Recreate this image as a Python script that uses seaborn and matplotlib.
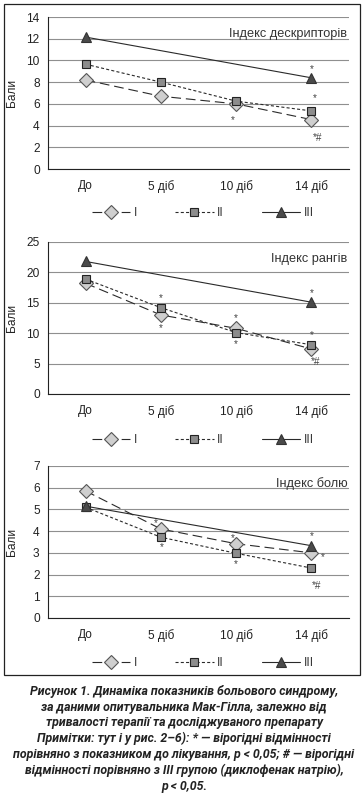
import matplotlib
matplotlib.use("Agg")
import matplotlib.pyplot as plt
from matplotlib.patches import Rectangle
import seaborn as sns
import pandas as pd

# ---------------- data ----------------
categories = ["До", "5 діб", "10 діб", "14 діб"]
groups = ["I", "II", "III"]
iii_categories = ["До", "14 діб"]

desc_I = [8.2, 6.7, 6.0, 4.55]
desc_II = [9.65, 8.0, 6.25, 5.35]
desc_III = [12.15, 8.4]

ranks_I = [18.2, 13.0, 10.8, 7.4]
ranks_II = [18.9, 14.2, 10.1, 8.1]
ranks_III = [21.8, 15.1]

pain_I = [5.85, 4.1, 3.42, 3.0]
pain_II = [5.1, 3.72, 2.98, 2.3]
pain_III = [5.15, 3.33]

panel_titles = ["Індекс дескрипторів", "Індекс рангів", "Індекс болю"]
y_label = "Бали"

# significance marks: (category, value, text)
desc_marks = [("14 діб", 9.45, "*"), ("14 діб", 6.8, "*"), ("10 діб", 4.8, "*"), ("14 діб", 3.1, "*#")]
ranks_marks = [("5 діб", 16.2, "*"), ("5 діб", 11.3, "*"), ("10 діб", 13.0, "*"), ("10 діб", 8.6, "*"),
               ("14 діб", 17.1, "*"), ("14 діб", 10.2, "*"), ("14 діб", 5.7, "*#")]
pain_marks = [("5 діб", 4.5, "*"), ("5 діб", 3.4, "*"), ("10 діб", 3.82, "*"), ("10 діб", 2.6, "*"),
              ("14 діб", 3.9, "*"), ("14 діб", 2.95, "*"), ("14 діб", 1.6, "*#")]
# horizontal nudges (px) for marks, same order as above
desc_dx = [0, 3, -3, 6]
ranks_dx = [0, 0, 0, 0, 0, 0, 4]
pain_dx = [-5, 1, -3, 0, 0, 11, 5]

y_max = [14, 25, 7]
y_step = [2, 5, 1]

caption = ("Рисунок 1. Динаміка показників больового синдрому,\n"
           "за даними опитувальника Мак-Гілла, залежно від\n"
           "тривалості терапії та досліджуваного препарату\n"
           "Примітки: тут і у рис. 2–6): * — вірогідні відмінності\n"
           "порівняно з показником до лікування, р < 0,05; # — вірогідні\n"
           "відмінності порівняно з ІІІ групою (диклофенак натрію),\n"
           "р < 0,05.")

# ---------------- style ----------------
sns.set_style("white")
plt.rcParams["font.family"] = ["Liberation Sans", "DejaVu Sans"]
plt.rcParams["lines.scale_dashes"] = False

W, H = 364, 793
fig = plt.figure(figsize=(W / 100, H / 100), dpi=100)

def fx(px):
    return px / W

def fy(py):
    return 1 - py / H

panels = [
    (desc_I, desc_II, desc_III, desc_marks, desc_dx, 17, 169, 213),
    (ranks_I, ranks_II, ranks_III, ranks_marks, ranks_dx, 242, 394, 440),
    (pain_I, pain_II, pain_III, pain_marks, pain_dx, 466, 618, 663),
]

line_col = "#2a2a2a"
styles = {
    "I": dict(marker="D", markersize=7.0, markerfacecolor="#cfcfcf", markeredgecolor="#555555",
              markeredgewidth=0.8, dashes=(7, 3.5)),
    "II": dict(marker="s", markersize=6.3, markerfacecolor="#8c8c8c", markeredgecolor="#222222",
               markeredgewidth=0.8, dashes=(2.2, 1.6)),
    "III": dict(marker="^", markersize=6.8, markerfacecolor="#4a4a4a", markeredgecolor="#333333",
                markeredgewidth=0.8, dashes=None),
}

fs = 8.6
mark_fs = 7.2
left_px, right_px = 48, 349
for i, (vI, vII, vIII, marks, dxs, top, bot, leg_y) in enumerate(panels):
    ax = fig.add_axes([fx(left_px), fy(bot), fx(right_px - left_px), (bot - top) / H])
    series = {"I": (categories, vI), "II": (categories, vII), "III": (iii_categories, vIII)}
    for g in groups:
        cats, vals = series[g]
        df = pd.DataFrame({"x": [categories.index(c) for c in cats], "y": vals})
        st = dict(styles[g])
        dashes = st.pop("dashes")
        sns.lineplot(data=df, x="x", y="y", ax=ax, color=line_col, linewidth=0.8,
                     label=g, legend=False, **st)
        ln = ax.get_lines()[-1]
        if dashes is not None:
            ln.set_dashes(dashes)
        else:
            ln.set_linestyle("-")
    ax.set_xlim(-0.5, 3.5)
    ax.set_ylim(0, y_max[i])
    ax.set_yticks(range(0, y_max[i] + 1, y_step[i]))
    ax.set_xticks([0, 1, 2, 3])
    ax.set_xticklabels(categories)
    ax.set_xticks([-0.5, 0.5, 1.5, 2.5, 3.5], minor=True)
    ax.tick_params(axis="x", which="major", length=0, pad=8, labelsize=fs, labelcolor="#222222")
    ax.tick_params(axis="x", which="minor", length=4, width=0.8, color="#222222", direction="out")
    ax.tick_params(axis="y", length=4, width=0.8, color="#222222", direction="out", pad=2,
                   labelsize=fs, labelcolor="#222222")
    ax.set_xlabel("")
    ax.set_ylabel(y_label, fontsize=8.6, color="#222222")
    ax.yaxis.set_label_coords(-0.1, 0.5)
    ax.grid(axis="y", color="#8f8f8f", linewidth=0.8)
    ax.set_axisbelow(True)
    for s in ["top", "right"]:
        ax.spines[s].set_visible(False)
    ax.spines["left"].set_color("#222222")
    ax.spines["left"].set_linewidth(0.8)
    ax.spines["bottom"].set_color("#222222")
    ax.spines["bottom"].set_linewidth(0.8)
    ax.text(0.995, 0.885, panel_titles[i], transform=ax.transAxes, ha="right", va="center",
            fontsize=9.2, color="#333333")
    for (c, v, t), dx in zip(marks, dxs):
        ax.annotate(t, (categories.index(c), v), xytext=(dx * 0.72, -0.58 * mark_fs), textcoords="offset points",
                    ha="center", va="baseline", fontsize=mark_fs, color="#444444")
    handles, labels = ax.get_legend_handles_labels()
    ax.legend(handles, labels, loc="center", bbox_to_anchor=(fx(203), fy(leg_y)),
              bbox_transform=fig.transFigure, ncol=3, frameon=False, fontsize=fs,
              handlelength=3.2, handletextpad=0.3, columnspacing=3.2, labelcolor="#333333")

# outer frame
fig.add_artist(Rectangle((fx(3.5), fy(675)), fx(356), (675 - 3.5) / H, transform=fig.transFigure,
                         fill=False, edgecolor="#222222", linewidth=0.9))

fig.text(fx(184), fy(739), caption, ha="center", va="center", fontsize=8.9, fontweight="bold",
         fontstyle="italic", color="#222222", linespacing=1.27, family=["Roboto", "DejaVu Sans"])

fig.savefig("out.png", dpi=100)
